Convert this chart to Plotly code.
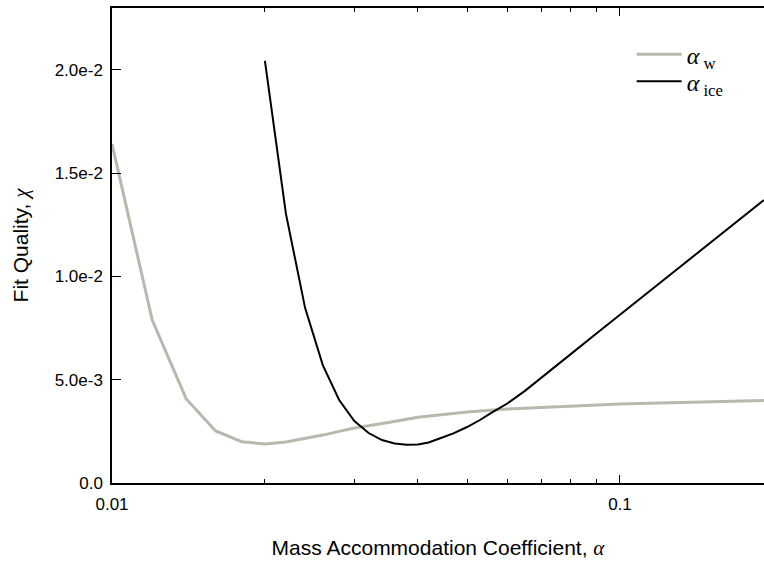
import plotly.graph_objects as go

# Mass accommodation coefficient values and fit quality
alpha_w_x = [0.010, 0.012, 0.014, 0.016, 0.018, 0.020, 0.022, 0.024, 0.026, 0.028,
             0.030, 0.035, 0.040, 0.050, 0.060, 0.070, 0.080, 0.100, 0.120, 0.150, 0.192]
alpha_w_y = [0.01642, 0.00789, 0.00407, 0.00252, 0.00200, 0.00189, 0.00199, 0.00215,
             0.00232, 0.00250, 0.00266, 0.00293, 0.00318, 0.00344, 0.00358, 0.00366,
             0.00373, 0.00383, 0.00387, 0.00393, 0.00399]

alpha_ice_x = [0.020, 0.022, 0.024, 0.026, 0.028, 0.030, 0.032, 0.034, 0.036, 0.038,
               0.040, 0.042, 0.044, 0.047, 0.050, 0.053, 0.056, 0.060, 0.065, 0.070,
               0.080, 0.090, 0.100, 0.110, 0.120, 0.130, 0.140, 0.150, 0.170, 0.192]
alpha_ice_y = [0.02044, 0.01303, 0.00847, 0.00571, 0.00402, 0.00300, 0.00242, 0.00208,
               0.00191, 0.00185, 0.00186, 0.00196, 0.00214, 0.00240, 0.00271, 0.00305,
               0.00342, 0.00385, 0.00446, 0.00508, 0.00624, 0.00725, 0.00815, 0.00896,
               0.00970, 0.01038, 0.01101, 0.01160, 0.01267, 0.01370]

y_tickvals = [0.0, 0.005, 0.010, 0.015, 0.020]
y_ticktext = ["0.0", "5.0e-3", "1.0e-2", "1.5e-2", "2.0e-2"]
x_tickvals = [0.01, 0.1]
x_ticktext = ["0.01", "0.1"]
x_minor = [0.02, 0.03, 0.04, 0.05, 0.06, 0.07, 0.08, 0.09]

SERIF = "Liberation Serif"

fig = go.Figure()
fig.add_trace(go.Scatter(
    x=alpha_w_x, y=alpha_w_y, mode="lines",
    name="<i>α</i><sub> w</sub>", legend="legend",
    line=dict(color="rgb(184,184,172)", width=3),
))
fig.add_trace(go.Scatter(
    x=alpha_ice_x, y=alpha_ice_y, mode="lines",
    name="<i>α</i><sub> ice</sub>", legend="legend2",
    line=dict(color="black", width=2),
))

legend_style = dict(
    xanchor="left", yanchor="middle",
    bgcolor="rgba(0,0,0,0)",
    font=dict(family=SERIF, size=24, color="black"),
    itemwidth=45,
)

fig.update_layout(
    width=764, height=563,
    margin=dict(l=112, r=0, t=8, b=80),
    paper_bgcolor="white", plot_bgcolor="white",
    font=dict(family="Liberation Sans, Arial", size=16, color="black"),
    showlegend=True,
    legend=dict(x=0.797, y=0.902, **legend_style),
    legend2=dict(x=0.797, y=0.845, **legend_style),
    xaxis=dict(
        type="log", range=[-2, -0.7165], automargin=False,
        tickvals=x_tickvals, ticktext=x_ticktext,
        ticks="inside", ticklen=8, tickwidth=1, tickcolor="black",
        minor=dict(tickvals=x_minor, ticks="inside", ticklen=4, tickwidth=1, tickcolor="black"),
        showline=True, linecolor="black", linewidth=1.5, mirror="ticks",
        showgrid=False, zeroline=False,
        tickfont=dict(size=17),
        ticklabelstandoff=5,
        title=dict(text=f"Mass Accommodation Coefficient, <span style='font-family:{SERIF}'><i>α</i></span>",
                   font=dict(size=21), standoff=27),
    ),
    yaxis=dict(
        range=[0, 0.023], automargin=False,
        tickvals=y_tickvals, ticktext=y_ticktext,
        ticks="inside", ticklen=9, tickwidth=1, tickcolor="black",
        showline=True, linecolor="black", linewidth=1.5, mirror=False,
        showgrid=False, zeroline=False,
        tickfont=dict(size=17),
        ticklabelstandoff=4,
        title=dict(text=f"Fit Quality, <span style='font-family:{SERIF}'><i>χ</i></span>",
                   font=dict(size=21), standoff=20),
    ),
)

fig.write_html(
    "out.html",
    config={"displayModeBar": False},
    post_script="document.body.style.margin='0';document.body.style.overflow='hidden';",
)
